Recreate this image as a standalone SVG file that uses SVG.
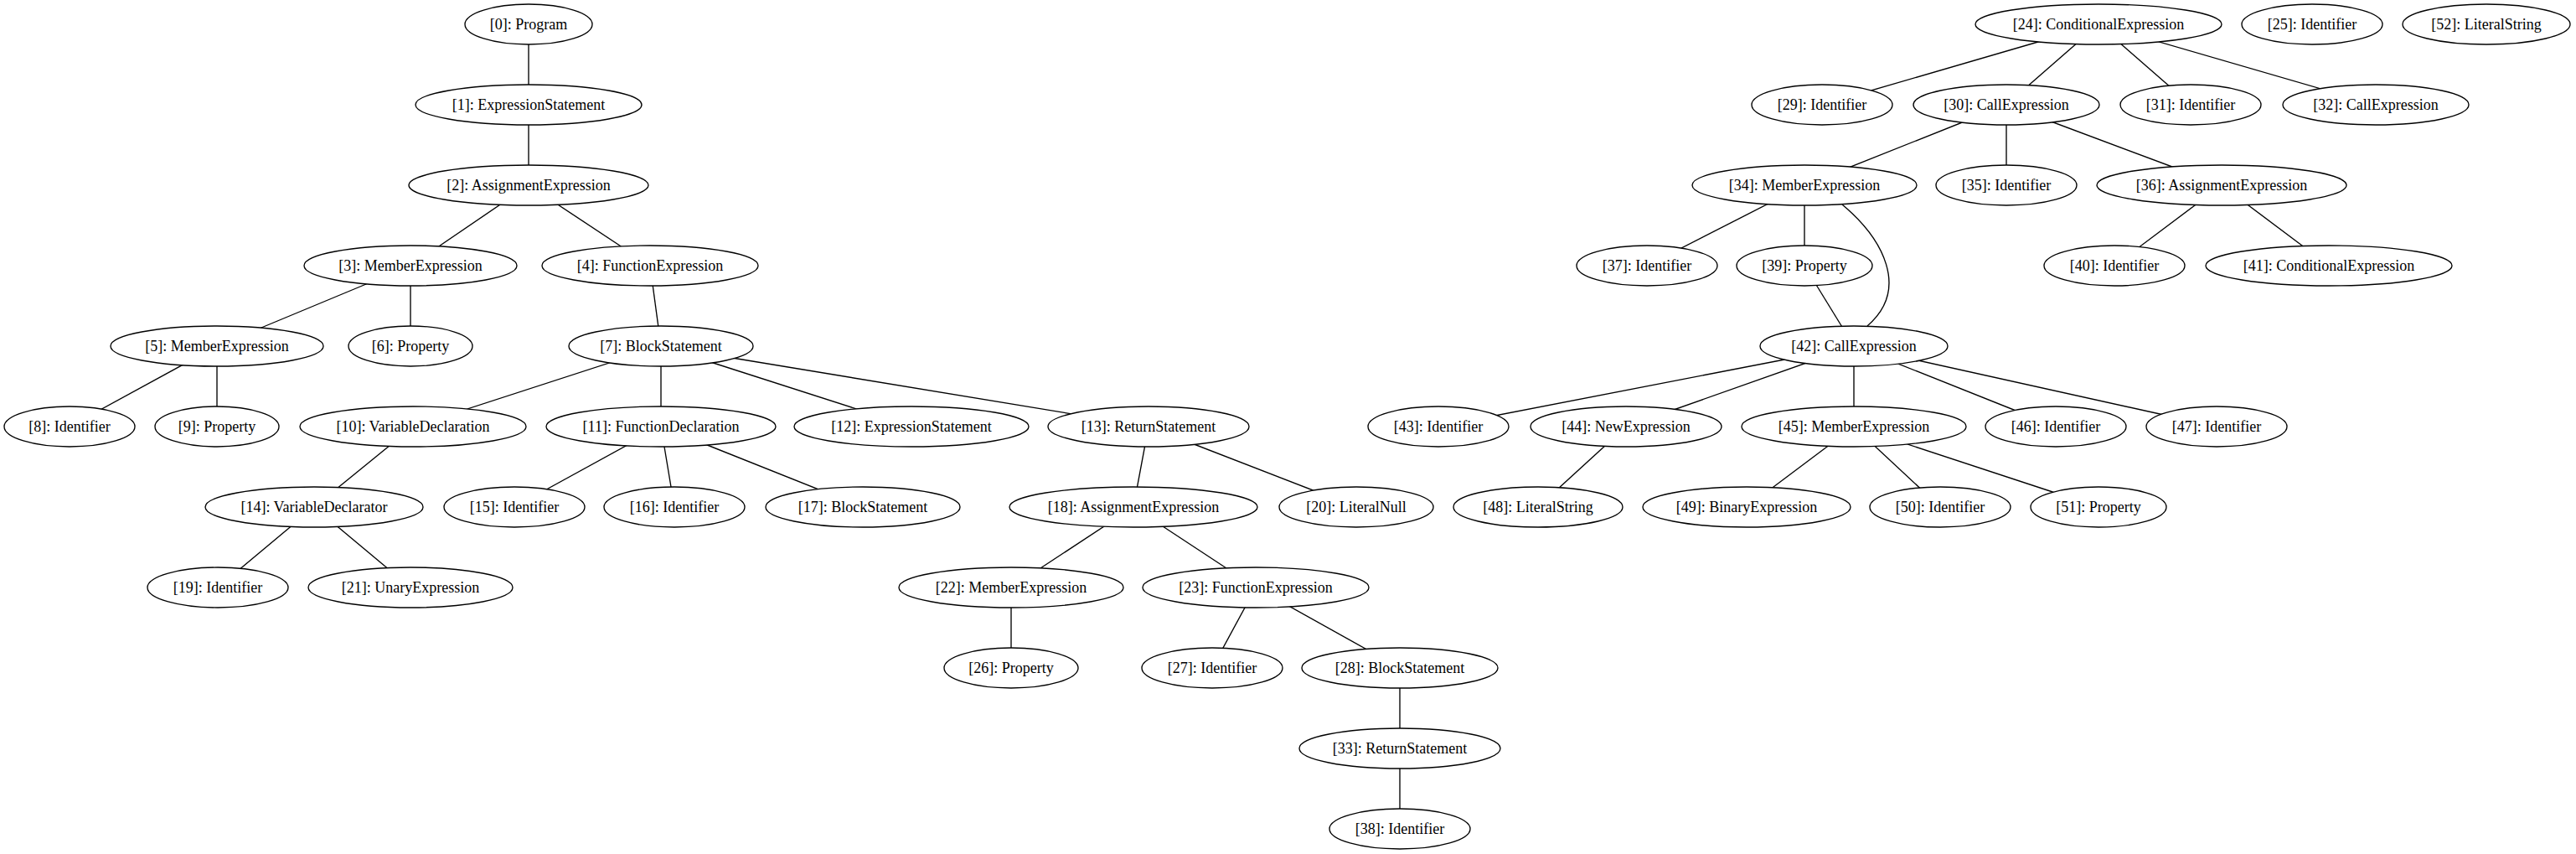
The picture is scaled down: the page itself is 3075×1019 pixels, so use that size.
<svg xmlns="http://www.w3.org/2000/svg" width="3075" height="1019" viewBox="0 0 3075 1019">
<style>
.e{stroke:#000;stroke-width:1.35;fill:none}
.n ellipse{fill:#fff;stroke:#000;stroke-width:1.35}
.n text{font-family:"Liberation Serif","Times New Roman",serif;font-size:18px;text-anchor:middle;fill:#000}
</style>
<rect width="3075" height="1019" fill="#fff"/>
<g id="edges">
<line class="e" x1="631" y1="29" x2="631" y2="125"/>
<line class="e" x1="631" y1="125" x2="631" y2="221"/>
<line class="e" x1="631" y1="221" x2="490" y2="317"/>
<line class="e" x1="631" y1="221" x2="776" y2="317"/>
<line class="e" x1="490" y1="317" x2="259" y2="413"/>
<line class="e" x1="490" y1="317" x2="490" y2="413"/>
<line class="e" x1="776" y1="317" x2="789" y2="413"/>
<line class="e" x1="259" y1="413" x2="83" y2="509"/>
<line class="e" x1="259" y1="413" x2="259" y2="509"/>
<line class="e" x1="789" y1="413" x2="493" y2="509"/>
<line class="e" x1="789" y1="413" x2="789" y2="509"/>
<line class="e" x1="789" y1="413" x2="1088" y2="509"/>
<line class="e" x1="789" y1="413" x2="1371" y2="509"/>
<line class="e" x1="493" y1="509" x2="375" y2="605"/>
<line class="e" x1="789" y1="509" x2="614" y2="605"/>
<line class="e" x1="789" y1="509" x2="805" y2="605"/>
<line class="e" x1="789" y1="509" x2="1030" y2="605"/>
<line class="e" x1="1371" y1="509" x2="1353" y2="605"/>
<line class="e" x1="1371" y1="509" x2="1619" y2="605"/>
<line class="e" x1="375" y1="605" x2="260" y2="701"/>
<line class="e" x1="375" y1="605" x2="490" y2="701"/>
<line class="e" x1="1353" y1="605" x2="1207" y2="701"/>
<line class="e" x1="1353" y1="605" x2="1499" y2="701"/>
<line class="e" x1="1207" y1="701" x2="1207" y2="797"/>
<line class="e" x1="1499" y1="701" x2="1447" y2="797"/>
<line class="e" x1="1499" y1="701" x2="1671" y2="797"/>
<line class="e" x1="1671" y1="797" x2="1671" y2="893"/>
<line class="e" x1="1671" y1="893" x2="1671" y2="989"/>
<line class="e" x1="2505" y1="29" x2="2175" y2="125"/>
<line class="e" x1="2505" y1="29" x2="2395" y2="125"/>
<line class="e" x1="2505" y1="29" x2="2615" y2="125"/>
<line class="e" x1="2505" y1="29" x2="2836" y2="125"/>
<line class="e" x1="2395" y1="125" x2="2154" y2="221"/>
<line class="e" x1="2395" y1="125" x2="2395" y2="221"/>
<line class="e" x1="2395" y1="125" x2="2652" y2="221"/>
<line class="e" x1="2154" y1="221" x2="1966" y2="317"/>
<line class="e" x1="2154" y1="221" x2="2154" y2="317"/>
<path class="e" d="M2199,244 C2248,285 2280,345 2229,389"/>
<line class="e" x1="2652" y1="221" x2="2524" y2="317"/>
<line class="e" x1="2652" y1="221" x2="2780" y2="317"/>
<line class="e" x1="2154" y1="317" x2="2213" y2="413"/>
<line class="e" x1="2213" y1="413" x2="1717" y2="509"/>
<line class="e" x1="2213" y1="413" x2="1941" y2="509"/>
<line class="e" x1="2213" y1="413" x2="2213" y2="509"/>
<line class="e" x1="2213" y1="413" x2="2454" y2="509"/>
<line class="e" x1="2213" y1="413" x2="2646" y2="509"/>
<line class="e" x1="1941" y1="509" x2="1836" y2="605"/>
<line class="e" x1="2213" y1="509" x2="2085" y2="605"/>
<line class="e" x1="2213" y1="509" x2="2316" y2="605"/>
<line class="e" x1="2213" y1="509" x2="2505" y2="605"/>
</g>
<g id="n0" class="n"><ellipse cx="631" cy="29" rx="76" ry="24"/><text x="631" y="35">[0]: Program</text></g>
<g id="n1" class="n"><ellipse cx="631" cy="125" rx="135" ry="24"/><text x="631" y="131">[1]: ExpressionStatement</text></g>
<g id="n2" class="n"><ellipse cx="631" cy="221" rx="143" ry="24"/><text x="631" y="227">[2]: AssignmentExpression</text></g>
<g id="n3" class="n"><ellipse cx="490" cy="317" rx="127" ry="24"/><text x="490" y="323">[3]: MemberExpression</text></g>
<g id="n4" class="n"><ellipse cx="776" cy="317" rx="129" ry="24"/><text x="776" y="323">[4]: FunctionExpression</text></g>
<g id="n5" class="n"><ellipse cx="259" cy="413" rx="127" ry="24"/><text x="259" y="419">[5]: MemberExpression</text></g>
<g id="n6" class="n"><ellipse cx="490" cy="413" rx="74" ry="24"/><text x="490" y="419">[6]: Property</text></g>
<g id="n7" class="n"><ellipse cx="789" cy="413" rx="110" ry="24"/><text x="789" y="419">[7]: BlockStatement</text></g>
<g id="n8" class="n"><ellipse cx="83" cy="509" rx="78" ry="24"/><text x="83" y="515">[8]: Identifier</text></g>
<g id="n9" class="n"><ellipse cx="259" cy="509" rx="74" ry="24"/><text x="259" y="515">[9]: Property</text></g>
<g id="n10" class="n"><ellipse cx="493" cy="509" rx="135" ry="24"/><text x="493" y="515">[10]: VariableDeclaration</text></g>
<g id="n11" class="n"><ellipse cx="789" cy="509" rx="137" ry="24"/><text x="789" y="515">[11]: FunctionDeclaration</text></g>
<g id="n12" class="n"><ellipse cx="1088" cy="509" rx="140" ry="24"/><text x="1088" y="515">[12]: ExpressionStatement</text></g>
<g id="n13" class="n"><ellipse cx="1371" cy="509" rx="120" ry="24"/><text x="1371" y="515">[13]: ReturnStatement</text></g>
<g id="n14" class="n"><ellipse cx="375" cy="605" rx="130" ry="24"/><text x="375" y="611">[14]: VariableDeclarator</text></g>
<g id="n15" class="n"><ellipse cx="614" cy="605" rx="84" ry="24"/><text x="614" y="611">[15]: Identifier</text></g>
<g id="n16" class="n"><ellipse cx="805" cy="605" rx="84" ry="24"/><text x="805" y="611">[16]: Identifier</text></g>
<g id="n17" class="n"><ellipse cx="1030" cy="605" rx="116" ry="24"/><text x="1030" y="611">[17]: BlockStatement</text></g>
<g id="n18" class="n"><ellipse cx="1353" cy="605" rx="148" ry="24"/><text x="1353" y="611">[18]: AssignmentExpression</text></g>
<g id="n20" class="n"><ellipse cx="1619" cy="605" rx="92" ry="24"/><text x="1619" y="611">[20]: LiteralNull</text></g>
<g id="n19" class="n"><ellipse cx="260" cy="701" rx="84" ry="24"/><text x="260" y="707">[19]: Identifier</text></g>
<g id="n21" class="n"><ellipse cx="490" cy="701" rx="122" ry="24"/><text x="490" y="707">[21]: UnaryExpression</text></g>
<g id="n22" class="n"><ellipse cx="1207" cy="701" rx="134" ry="24"/><text x="1207" y="707">[22]: MemberExpression</text></g>
<g id="n23" class="n"><ellipse cx="1499" cy="701" rx="135" ry="24"/><text x="1499" y="707">[23]: FunctionExpression</text></g>
<g id="n26" class="n"><ellipse cx="1207" cy="797" rx="80" ry="24"/><text x="1207" y="803">[26]: Property</text></g>
<g id="n27" class="n"><ellipse cx="1447" cy="797" rx="84" ry="24"/><text x="1447" y="803">[27]: Identifier</text></g>
<g id="n28" class="n"><ellipse cx="1671" cy="797" rx="117" ry="24"/><text x="1671" y="803">[28]: BlockStatement</text></g>
<g id="n33" class="n"><ellipse cx="1671" cy="893" rx="120" ry="24"/><text x="1671" y="899">[33]: ReturnStatement</text></g>
<g id="n38" class="n"><ellipse cx="1671" cy="989" rx="84" ry="24"/><text x="1671" y="995">[38]: Identifier</text></g>
<g id="n24" class="n"><ellipse cx="2505" cy="29" rx="147" ry="24"/><text x="2505" y="35">[24]: ConditionalExpression</text></g>
<g id="n25" class="n"><ellipse cx="2760" cy="29" rx="84" ry="24"/><text x="2760" y="35">[25]: Identifier</text></g>
<g id="n52" class="n"><ellipse cx="2968" cy="29" rx="100" ry="24"/><text x="2968" y="35">[52]: LiteralString</text></g>
<g id="n29" class="n"><ellipse cx="2175" cy="125" rx="84" ry="24"/><text x="2175" y="131">[29]: Identifier</text></g>
<g id="n30" class="n"><ellipse cx="2395" cy="125" rx="111" ry="24"/><text x="2395" y="131">[30]: CallExpression</text></g>
<g id="n31" class="n"><ellipse cx="2615" cy="125" rx="84" ry="24"/><text x="2615" y="131">[31]: Identifier</text></g>
<g id="n32" class="n"><ellipse cx="2836" cy="125" rx="111" ry="24"/><text x="2836" y="131">[32]: CallExpression</text></g>
<g id="n34" class="n"><ellipse cx="2154" cy="221" rx="134" ry="24"/><text x="2154" y="227">[34]: MemberExpression</text></g>
<g id="n35" class="n"><ellipse cx="2395" cy="221" rx="84" ry="24"/><text x="2395" y="227">[35]: Identifier</text></g>
<g id="n36" class="n"><ellipse cx="2652" cy="221" rx="149" ry="24"/><text x="2652" y="227">[36]: AssignmentExpression</text></g>
<g id="n37" class="n"><ellipse cx="1966" cy="317" rx="84" ry="24"/><text x="1966" y="323">[37]: Identifier</text></g>
<g id="n39" class="n"><ellipse cx="2154" cy="317" rx="81" ry="24"/><text x="2154" y="323">[39]: Property</text></g>
<g id="n40" class="n"><ellipse cx="2524" cy="317" rx="84" ry="24"/><text x="2524" y="323">[40]: Identifier</text></g>
<g id="n41" class="n"><ellipse cx="2780" cy="317" rx="147" ry="24"/><text x="2780" y="323">[41]: ConditionalExpression</text></g>
<g id="n42" class="n"><ellipse cx="2213" cy="413" rx="112" ry="24"/><text x="2213" y="419">[42]: CallExpression</text></g>
<g id="n43" class="n"><ellipse cx="1717" cy="509" rx="84" ry="24"/><text x="1717" y="515">[43]: Identifier</text></g>
<g id="n44" class="n"><ellipse cx="1941" cy="509" rx="114" ry="24"/><text x="1941" y="515">[44]: NewExpression</text></g>
<g id="n45" class="n"><ellipse cx="2213" cy="509" rx="134" ry="24"/><text x="2213" y="515">[45]: MemberExpression</text></g>
<g id="n46" class="n"><ellipse cx="2454" cy="509" rx="84" ry="24"/><text x="2454" y="515">[46]: Identifier</text></g>
<g id="n47" class="n"><ellipse cx="2646" cy="509" rx="84" ry="24"/><text x="2646" y="515">[47]: Identifier</text></g>
<g id="n48" class="n"><ellipse cx="1836" cy="605" rx="101" ry="24"/><text x="1836" y="611">[48]: LiteralString</text></g>
<g id="n49" class="n"><ellipse cx="2085" cy="605" rx="124" ry="24"/><text x="2085" y="611">[49]: BinaryExpression</text></g>
<g id="n50" class="n"><ellipse cx="2316" cy="605" rx="84" ry="24"/><text x="2316" y="611">[50]: Identifier</text></g>
<g id="n51" class="n"><ellipse cx="2505" cy="605" rx="81" ry="24"/><text x="2505" y="611">[51]: Property</text></g>
</svg>
